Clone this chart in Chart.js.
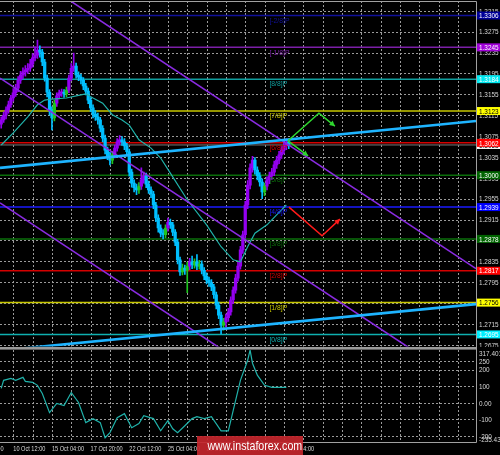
<!DOCTYPE html>
<html>
<head>
<meta charset="utf-8">
<script src="https://cdn.jsdelivr.net/npm/chart.js@4.4.0/dist/chart.umd.min.js"></script>
<style>
  html, body { margin: 0; padding: 0; background: #000; }
  #wrap { position: relative; width: 500px; height: 455px; overflow: hidden; background: #000; }
  #price { position: absolute; left: 0; top: 0; }
  #cci { position: absolute; left: 0; top: 347px; }
  #mark { position: absolute; left: 197px; top: 436px; width: 106px; height: 19px; background: rgba(196, 38, 44, 0.92);
          color: #fff; font: 13px 'Liberation Sans', sans-serif; text-align: center; line-height: 19px; white-space: nowrap; }
  #mark span { display: inline-block; transform: scaleX(0.82); }
</style>
</head>
<body>
<div id="wrap">
  <canvas id="price" width="500" height="347"></canvas>
  <canvas id="cci" width="500" height="108"></canvas>
  <div id="mark"><span>www.instaforex.com</span></div>
</div>
<script>
// H4 candles, index 0 = "10 Oct 12:00"
const firstBar = -5;
const opens = [1.3098, 1.3106, 1.3115, 1.3125, 1.3135, 1.3148, 1.3158, 1.3167, 1.3182, 1.3192,
  1.3198, 1.3202, 1.3205, 1.3213, 1.3225, 1.3230, 1.3240, 1.3236, 1.3217, 1.3186,
  1.3159, 1.3125, 1.3110, 1.3138, 1.3152, 1.3158, 1.3159, 1.3156, 1.3163, 1.3186,
  1.3205, 1.3209, 1.3192, 1.3188, 1.3182, 1.3171, 1.3161, 1.3144, 1.3129, 1.3117,
  1.3112, 1.3106, 1.3090, 1.3071, 1.3048, 1.3037, 1.3029, 1.3039, 1.3052, 1.3064,
  1.3068, 1.3064, 1.3056, 1.3045, 1.3006, 1.2985, 1.2976, 1.2972, 1.2979, 1.2991,
  1.2999, 1.2983, 1.2972, 1.2964, 1.2943, 1.2918, 1.2899, 1.2889, 1.2886, 1.2899,
  1.2910, 1.2905, 1.2891, 1.2872, 1.2838, 1.2815, 1.2822, 1.2818, 1.2826, 1.2834,
  1.2828, 1.2834, 1.2826, 1.2830, 1.2818, 1.2807, 1.2799, 1.2794, 1.2786, 1.2771,
  1.2751, 1.2732, 1.2713, 1.2719, 1.2727, 1.2738, 1.2761, 1.2780, 1.2803, 1.2826,
  1.2857, 1.2886, 1.2943, 1.2981, 1.3014, 1.3029, 1.3010, 1.2999, 1.2987, 1.2968,
  1.2979, 1.2991, 1.2999, 1.3006, 1.3020, 1.3029, 1.3039, 1.3048, 1.3056, 1.3064];
const highs = [1.3112, 1.3121, 1.3131, 1.3142, 1.3153, 1.3166, 1.3174, 1.3189, 1.3199, 1.3206,
  1.3210, 1.3214, 1.3222, 1.3233, 1.3246, 1.3259, 1.3248, 1.3241, 1.3222, 1.3192,
  1.3164, 1.3131, 1.3144, 1.3158, 1.3163, 1.3165, 1.3164, 1.3169, 1.3192, 1.3214,
  1.3234, 1.3215, 1.3198, 1.3194, 1.3187, 1.3176, 1.3167, 1.3149, 1.3135, 1.3124,
  1.3119, 1.3111, 1.3095, 1.3077, 1.3054, 1.3044, 1.3046, 1.3058, 1.3070, 1.3076,
  1.3074, 1.3070, 1.3061, 1.3050, 1.3012, 1.2991, 1.2983, 1.2986, 1.3014, 1.3006,
  1.3004, 1.2989, 1.2978, 1.2969, 1.2948, 1.2924, 1.2905, 1.2896, 1.2905, 1.2918,
  1.2916, 1.2910, 1.2896, 1.2877, 1.2843, 1.2830, 1.2828, 1.2833, 1.2841, 1.2845,
  1.2840, 1.2848, 1.2837, 1.2836, 1.2823, 1.2813, 1.2805, 1.2800, 1.2791, 1.2776,
  1.2757, 1.2738, 1.2726, 1.2734, 1.2745, 1.2767, 1.2786, 1.2810, 1.2833, 1.2864,
  1.2893, 1.2950, 1.2990, 1.3022, 1.3036, 1.3034, 1.3016, 1.3005, 1.2993, 1.2985,
  1.2997, 1.3006, 1.3013, 1.3027, 1.3036, 1.3046, 1.3055, 1.3063, 1.3070, 1.3068];
const lows = [1.3090, 1.3101, 1.3108, 1.3119, 1.3130, 1.3142, 1.3151, 1.3160, 1.3176, 1.3185,
  1.3190, 1.3195, 1.3199, 1.3207, 1.3219, 1.3224, 1.3226, 1.3210, 1.3180, 1.3150,
  1.3115, 1.3087, 1.3104, 1.3132, 1.3146, 1.3151, 1.3149, 1.3150, 1.3158, 1.3181,
  1.3199, 1.3186, 1.3181, 1.3175, 1.3164, 1.3154, 1.3137, 1.3122, 1.3110, 1.3105,
  1.3098, 1.3083, 1.3064, 1.3041, 1.3030, 1.3020, 1.3022, 1.3033, 1.3046, 1.3058,
  1.3057, 1.3049, 1.3038, 1.2998, 1.2977, 1.2968, 1.2963, 1.2965, 1.2973, 1.2985,
  1.2976, 1.2965, 1.2957, 1.2936, 1.2911, 1.2891, 1.2882, 1.2878, 1.2880, 1.2893,
  1.2898, 1.2884, 1.2865, 1.2830, 1.2808, 1.2809, 1.2810, 1.2775, 1.2819, 1.2821,
  1.2822, 1.2819, 1.2820, 1.2811, 1.2800, 1.2792, 1.2787, 1.2779, 1.2764, 1.2744,
  1.2725, 1.2696, 1.2703, 1.2710, 1.2720, 1.2732, 1.2754, 1.2774, 1.2797, 1.2820,
  1.2850, 1.2880, 1.2936, 1.2974, 1.3006, 1.3002, 1.2991, 1.2979, 1.2955, 1.2961,
  1.2972, 1.2984, 1.2992, 1.2999, 1.3013, 1.3022, 1.3032, 1.3041, 1.3049, 1.3051];
const closes = [1.3106, 1.3115, 1.3125, 1.3135, 1.3148, 1.3158, 1.3167, 1.3182, 1.3192, 1.3198,
  1.3202, 1.3205, 1.3213, 1.3225, 1.3230, 1.3240, 1.3236, 1.3217, 1.3186, 1.3159,
  1.3125, 1.3110, 1.3138, 1.3152, 1.3158, 1.3159, 1.3156, 1.3163, 1.3186, 1.3205,
  1.3209, 1.3192, 1.3188, 1.3182, 1.3171, 1.3161, 1.3144, 1.3129, 1.3117, 1.3112,
  1.3106, 1.3090, 1.3071, 1.3048, 1.3037, 1.3029, 1.3039, 1.3052, 1.3064, 1.3068,
  1.3064, 1.3056, 1.3045, 1.3006, 1.2985, 1.2976, 1.2972, 1.2979, 1.2991, 1.2999,
  1.2983, 1.2972, 1.2964, 1.2943, 1.2918, 1.2899, 1.2889, 1.2886, 1.2899, 1.2910,
  1.2905, 1.2891, 1.2872, 1.2838, 1.2815, 1.2822, 1.2818, 1.2826, 1.2834, 1.2828,
  1.2834, 1.2826, 1.2830, 1.2818, 1.2807, 1.2799, 1.2794, 1.2786, 1.2771, 1.2751,
  1.2732, 1.2713, 1.2719, 1.2727, 1.2738, 1.2761, 1.2780, 1.2803, 1.2826, 1.2857,
  1.2886, 1.2943, 1.2981, 1.3014, 1.3029, 1.3010, 1.2999, 1.2987, 1.2968, 1.2979,
  1.2991, 1.2999, 1.3006, 1.3020, 1.3029, 1.3039, 1.3048, 1.3056, 1.3064, 1.3058];

const timeLabels = ['5 Oct 20:00', '10 Oct 12:00', '15 Oct 04:00', '17 Oct 20:00', '22 Oct 12:00',
  '25 Oct 04:00', '29 Oct 20:00', '1 Nov 12:00', '6 Nov 04:00'];
const timeTicks = [-16, 0, 16, 32, 48, 64, 80, 96, 112];
const priceTicks = [1.2675, 1.2715, 1.2755, 1.2795, 1.2835, 1.2875, 1.2915, 1.2955, 1.2995,
  1.3035, 1.3075, 1.3115, 1.3155, 1.3195, 1.3235, 1.3275, 1.3315];

const murreyNames = ['[-2/8]P', '[-1/8]P', '[8/8]P', '[7/8]P', '[6/8]P', '[5/8]P',
  '[4/8]P', '[3/8]P', '[2/8]P', '[1/8]P', '[0/8]P'];
const murreyLevels = [1.3306, 1.3245, 1.3184, 1.3123, 1.3062, 1.3000, 1.2939, 1.2878, 1.2817, 1.2756, 1.2695];

// moving average
const maX = [-5, 0, 6, 10, 13, 16, 22, 28, 30, 33, 37, 41, 45, 48, 52, 57, 61, 65, 72, 80, 86, 91, 94, 97, 100, 105, 109, 113];
const maY = [1.3058, 1.3081, 1.3112, 1.3135, 1.3144, 1.3146, 1.3148, 1.3154, 1.3156, 1.3148, 1.3138, 1.3116, 1.3106, 1.3096,
  1.3068, 1.3052, 1.3033, 1.3004, 1.2953, 1.2905, 1.2863, 1.2838, 1.2834, 1.2863, 1.2889, 1.2905, 1.2924, 1.2943];

// CCI
const cciX = [-5, -4, -1, 1, 4, 5, 8, 10, 12, 15, 18, 21, 24, 27, 30, 33, 36, 38, 40, 43, 46, 49, 52, 54,
  58, 61, 64, 66, 68, 71, 74, 76, 79, 82, 86, 89, 91, 94, 97, 98, 99, 101, 104, 107, 110, 113];
const cciY = [87, 135, 147, 135, 153, 129, 123, 105, 56, -59, -4, -16, 62, 2, -119, -95, -119, -210, -180, -89,
  -65, -150, -125, -77, -95, -168, -107, -156, -180, -138, -95, -83, -95, -83, -168, -168, -47, 135, 256, 317,
  238, 166, 105, 93, 93, 93];
const cciTicks = [250, 200, 100, 0, -100, -200];
const cciMax = 317.4017;
const cciMin = -235.4328;

// trend lines: [left end, right end]
const trendX = [-5.5, 191.5];
const blueUpper = [1.3014, 1.3104];
const blueLower = [1.2664, 1.2753];
const purpleA = [1.3423, 1.2821];
const purpleB = [1.3186, 1.2585];
const purpleC = [1.2947, 1.2345];

// forecast arrows
const upArrowX = [113.7, 126.5, 133.1];
const upArrowY = [1.3066, 1.3119, 1.3094];
const downArrowX = [113.7, 122.0];
const downArrowY = [1.3066, 1.3037];
const redArrowX = [114.1, 127.8, 135.2];
const redArrowY = [1.2939, 1.2884, 1.2916];

const X_MIN = -5.5, X_MAX = 191.5;
const FONT = "'Liberation Sans', sans-serif";
const GRID = '#9a9a9a';
const AXIS_TEXT = '#d8d8d8';
const lineColors = ['#10109a', '#7c1fa8', '#0f9e9e', '#c8c800', '#d40000', '#0a6e0a', '#1a1aff', '#0a6e0a', '#d40000', '#c8c800', '#0fb0b0'];
const boxColors = ['#000098', '#a000d8', '#00e8f0', '#ffff00', '#ff0000', '#006400', '#0000ff', '#006400', '#ff0000', '#ffff00', '#00f0ff'];
const boxText = ['#fff', '#fff', '#fff', '#000', '#fff', '#fff', '#fff', '#fff', '#fff', '#000', '#fff'];
const BULL = '#9400f0', BEAR = '#00bfff', TURN = '#1fc41f';

Chart.defaults.font.family = FONT;

function barColor(i) {
  if (i === undefined) return BEAR;
  if (closes[i] >= opens[i]) {
    return i > 0 && closes[i - 1] < opens[i - 1] ? TURN : BULL;
  }
  return BEAR;
}

function pts(xs, ys) {
  return xs.map((x, i) => ({ x: x, y: ys[i] }));
}

function lineSet(xs, ys, color, width, order, extra) {
  return Object.assign({
    type: 'line', data: pts(xs, ys), borderColor: color, borderWidth: width,
    pointRadius: 0, tension: 0, clip: 0, order: order
  }, extra || {});
}

// narrow text, like the terminal's small font
function squeeze(ctx, text, x, y, sx) {
  ctx.save();
  ctx.translate(x, y);
  ctx.scale(sx, 1);
  ctx.fillText(text, 0, 0);
  ctx.restore();
}

// dotted grid on the tick positions of both axes
const dottedGrid = {
  id: 'dottedGrid',
  beforeDatasetsDraw(chart) {
    const { ctx, chartArea: a, scales: { x, y } } = chart;
    ctx.save();
    ctx.strokeStyle = GRID;
    ctx.lineWidth = 1;
    ctx.setLineDash([2, 2]);
    ctx.beginPath();
    x.ticks.forEach(t => {
      const px = Math.round(x.getPixelForValue(t.value)) + 0.5;
      if (px < a.left || px > a.right) return;
      ctx.moveTo(px, a.top);
      ctx.lineTo(px, a.bottom);
    });
    y.ticks.forEach(t => {
      const py = Math.round(y.getPixelForValue(t.value)) + 0.5;
      if (py < a.top || py > a.bottom) return;
      ctx.moveTo(a.left, py);
      ctx.lineTo(a.right, py);
    });
    ctx.stroke();
    ctx.restore();
  }
};

const gridX = [];
for (let v = -16; v <= 184; v += 8) gridX.push(v);

const datasets = [];
murreyLevels.forEach((lvl, k) => datasets.push(lineSet(trendX, [lvl, lvl], lineColors[k], 1.5, 10)));
const lastClose = closes[closes.length - 1];
datasets.push(lineSet(trendX, [lastClose, lastClose], '#7a7a7a', 1, 9));
datasets.push({
  type: 'bar', data: closes.map((c, i) => ({ x: firstBar + i, y: [lows[i], highs[i]] })),
  backgroundColor: ctx => barColor(ctx.dataIndex), barThickness: 1, grouped: false, order: 8
});
datasets.push({
  type: 'bar', data: closes.map((c, i) => ({ x: firstBar + i, y: [opens[i], c] })),
  backgroundColor: ctx => barColor(ctx.dataIndex), barThickness: 2.6, minBarLength: 1, grouped: false, order: 7
});
datasets.push(lineSet(maX, maY, '#20b2aa', 1.2, 6));
[purpleA, purpleB, purpleC].forEach(p => datasets.push(lineSet(trendX, p, '#8a2be2', 1.6, 5)));
datasets.push(lineSet(trendX, blueUpper, '#1eb4ff', 2.6, 4));
datasets.push(lineSet(trendX, blueLower, '#1eb4ff', 2.6, 4));
datasets.push(lineSet(upArrowX, upArrowY, '#2fd62f', 1.5, 3, { arrow: true }));
datasets.push(lineSet(downArrowX, downArrowY, '#2fd62f', 1.5, 3, { arrow: true }));
datasets.push(lineSet(redArrowX, redArrowY, '#ff1a1a', 1.5, 3, { arrow: true }));

const priceDecor = {
  id: 'priceDecor',
  afterDatasetsDraw(chart) {
    const { ctx, scales: { x, y } } = chart;
    chart.data.datasets.forEach((ds, k) => {
      if (!ds.arrow) return;
      const p = chart.getDatasetMeta(k).data;
      const a = p[p.length - 2], b = p[p.length - 1];
      const ang = Math.atan2(b.y - a.y, b.x - a.x);
      ctx.save();
      ctx.fillStyle = ds.borderColor;
      ctx.beginPath();
      ctx.moveTo(b.x, b.y);
      ctx.lineTo(b.x - 6 * Math.cos(ang - 0.5), b.y - 6 * Math.sin(ang - 0.5));
      ctx.lineTo(b.x - 6 * Math.cos(ang + 0.5), b.y - 6 * Math.sin(ang + 0.5));
      ctx.closePath();
      ctx.fill();
      ctx.restore();
    });
    ctx.save();
    ctx.font = '8px ' + FONT;
    ctx.textAlign = 'left';
    ctx.textBaseline = 'top';
    murreyLevels.forEach((lvl, k) => {
      ctx.fillStyle = lineColors[k];
      squeeze(ctx, murreyNames[k], x.getPixelForValue(106), y.getPixelForValue(lvl) + 1, 0.85);
    });
    ctx.restore();
  },
  afterDraw(chart) {
    const { ctx, chartArea: a, scales: { y } } = chart;
    ctx.save();
    ctx.strokeStyle = '#a0a0a0';
    ctx.lineWidth = 1;
    ctx.beginPath();
    ctx.moveTo(0, a.top + 0.5);
    ctx.lineTo(a.right + 0.5, a.top + 0.5);
    ctx.lineTo(a.right + 0.5, chart.height);
    ctx.stroke();
    ctx.font = '8px ' + FONT;
    ctx.textAlign = 'left';
    ctx.textBaseline = 'middle';
    ctx.fillStyle = AXIS_TEXT;
    priceTicks.forEach(v => squeeze(ctx, v.toFixed(4), a.right + 3, y.getPixelForValue(v) + 0.5, 0.8));
    const box = (v, bg, fg) => {
      const py = y.getPixelForValue(v);
      ctx.fillStyle = bg;
      ctx.fillRect(a.right + 1, py - 4, 23, 8);
      ctx.fillStyle = fg;
      squeeze(ctx, v.toFixed(4), a.right + 3, py + 0.5, 0.8);
    };
    box(lastClose, '#ffffff', '#000');
    murreyLevels.forEach((lvl, k) => box(lvl, boxColors[k], boxText[k]));
    ctx.restore();
  }
};

new Chart(document.getElementById('price'), {
  type: 'bar',
  data: { datasets: datasets },
  options: {
    responsive: false,
    animation: false,
    events: [],
    layout: { padding: { top: 1, left: 0, right: 0, bottom: 0.5 } },
    plugins: { legend: { display: false }, tooltip: { enabled: false } },
    scales: {
      x: {
        type: 'linear', min: X_MIN, max: X_MAX, offset: false,
        afterBuildTicks: s => { s.ticks = gridX.map(v => ({ value: v })); },
        afterFit: s => { s.height = 0; },
        grid: { display: false },
        border: { display: false },
        ticks: { display: false }
      },
      y: {
        position: 'right', min: 1.26719, max: 1.33338,
        afterBuildTicks: s => { s.ticks = priceTicks.map(v => ({ value: v })); },
        afterFit: s => { s.width = 24; },
        grid: { display: false },
        border: { display: false },
        ticks: { display: false }
      }
    }
  },
  plugins: [dottedGrid, priceDecor]
});

const cciDecor = {
  id: 'cciDecor',
  afterDraw(chart) {
    const { ctx, chartArea: a, scales: { x, y } } = chart;
    ctx.save();
    ctx.fillStyle = '#9a9a9a';
    ctx.fillRect(0, 0, a.right, 2.6);
    ctx.strokeStyle = '#a0a0a0';
    ctx.lineWidth = 1;
    ctx.beginPath();
    ctx.moveTo(a.right + 0.5, 0);
    ctx.lineTo(a.right + 0.5, a.bottom + 0.5);
    ctx.lineTo(0, a.bottom + 0.5);
    ctx.stroke();
    ctx.fillStyle = AXIS_TEXT;
    ctx.font = '8px ' + FONT;
    ctx.textAlign = 'left';
    ctx.textBaseline = 'middle';
    cciTicks.forEach(v => squeeze(ctx, v === 0 ? '0.00' : String(v), a.right + 3, y.getPixelForValue(v) + 0.5, 0.8));
    ctx.textBaseline = 'top';
    squeeze(ctx, cciMax.toFixed(4), a.right + 3, a.top, 0.8);
    ctx.textBaseline = 'bottom';
    squeeze(ctx, cciMin.toFixed(4), a.right + 3, a.bottom + 2, 0.8);
    ctx.textBaseline = 'middle';
    timeTicks.forEach((v, k) => squeeze(ctx, timeLabels[k], x.getPixelForValue(v), a.bottom + 6.5, 0.7));
    ctx.restore();
  }
};

new Chart(document.getElementById('cci'), {
  type: 'line',
  data: {
    datasets: [{ data: pts(cciX, cciY), borderColor: '#20b2aa', borderWidth: 1.2, pointRadius: 0, tension: 0 }]
  },
  options: {
    responsive: false,
    animation: false,
    events: [],
    layout: { padding: { top: 3, left: 0, right: 0, bottom: 0 } },
    plugins: { legend: { display: false }, tooltip: { enabled: false } },
    scales: {
      x: {
        type: 'linear', min: X_MIN, max: X_MAX,
        afterBuildTicks: s => { s.ticks = gridX.map(v => ({ value: v })); },
        afterFit: s => { s.height = 13; },
        grid: { display: false },
        border: { display: false },
        ticks: { display: false }
      },
      y: {
        position: 'right', min: cciMin, max: cciMax,
        afterBuildTicks: s => { s.ticks = cciTicks.map(v => ({ value: v })); },
        afterFit: s => { s.width = 24; },
        grid: { display: false },
        border: { display: false },
        ticks: { display: false }
      }
    }
  },
  plugins: [dottedGrid, cciDecor]
});
</script>
</body>
</html>
